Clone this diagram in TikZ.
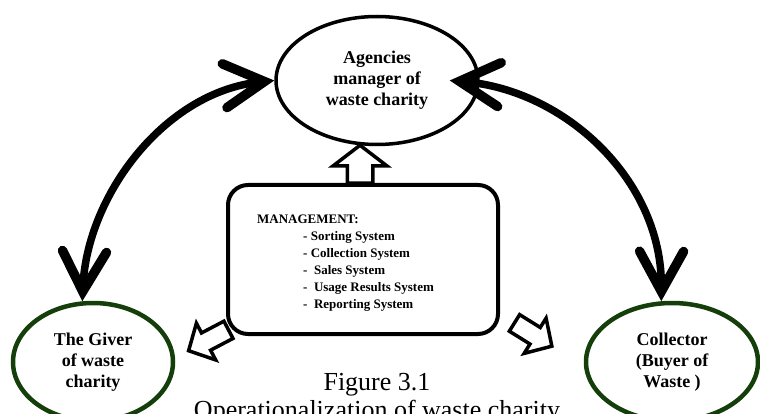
\documentclass[tikz,border=0pt]{standalone}
\usepackage{fontspec}
\setmainfont{Liberation Serif}
\usepackage{tikz}
\usetikzlibrary{shapes, arrows.meta}
\definecolor{darkgreen}{RGB}{20,62,10}
\tikzstyle{hub} = [ellipse, draw, line width=3.5pt, align=center, inner sep=0pt, font=\fontsize{18}{21}\selectfont\bfseries]
\tikzstyle{party} = [ellipse, draw=darkgreen, line width=4.5pt, align=center, inner sep=0pt, font=\fontsize{18}{21}\selectfont\bfseries]
\tikzstyle{link} = [line width=7.5pt, {Straight Barb[length=40pt, width=44pt, line width=2pt 1, line cap=round, line join=miter]}-{Straight Barb[length=40pt, width=44pt, line width=2pt 1, line cap=round, line join=miter]}]
\tikzstyle{pointer} = [single arrow, draw, line width=3.5pt, fill=white, inner xsep=0pt, anchor=tail]

\begin{document}
\begin{tikzpicture}[x=1pt, y=-1pt]
        \useasboundingbox (0, 0) rectangle (760, 414);
        \clip (0, 0) rectangle (760, 414);

        \node[hub, minimum width=202pt, minimum height=128pt] at (377, 80.5) (Agencies) {Agencies\\manager of\\waste charity};
        \node[party, minimum width=160pt, minimum height=118pt] at (93, 362) (Giver) {The Giver\\of waste\\charity};
        \node[party, minimum width=172pt, minimum height=118pt] at (672, 362) (Collector) {Collector\\(Buyer of\\Waste )};

        \node[rectangle, draw, rounded corners=20pt, line width=4pt, minimum width=270pt, minimum height=149pt] at (363, 259.5) (Management) {};
        \node[anchor=north west, align=left, inner sep=0pt, font=\fontsize{13}{17}\selectfont\bfseries] at (257, 214.3) (Tasks) {MANAGEMENT:\\
                \hspace*{46pt}- Sorting System\\
                \hspace*{46pt}- Collection System\\
                \hspace*{46pt}- \ Sales System\\
                \hspace*{46pt}- \ Usage Results System\\
                \hspace*{46pt}- \ Reporting System};

        \node[pointer, inner ysep=11pt, single arrow head extend=14pt, single arrow tip angle=105, minimum height=38pt, rotate=90] at (360, 185) (ToAgencies) {};
        \node[pointer, inner ysep=8pt, single arrow head extend=11pt, single arrow tip angle=93, minimum height=45pt, rotate=207.7] at (230, 329) (ToGiver) {};
        \node[pointer, inner ysep=8pt, single arrow head extend=11pt, single arrow tip angle=93, minimum height=44pt, rotate=-31.9] at (513, 322) (ToCollector) {};

        \draw[link] (Agencies.west) .. controls (165, 92) and (87, 195) .. (Giver.100);
        \draw[link] ([xshift=-30pt]Agencies.east) .. controls (565, 90) and (662, 180) .. (Collector.100);

        \node[align=center, anchor=north, inner sep=0pt, font=\fontsize{26}{28}\selectfont] at (377, 373.4) (Caption) {Figure 3.1\\Operationalization of waste charity};
    \end{tikzpicture}
\end{document}
